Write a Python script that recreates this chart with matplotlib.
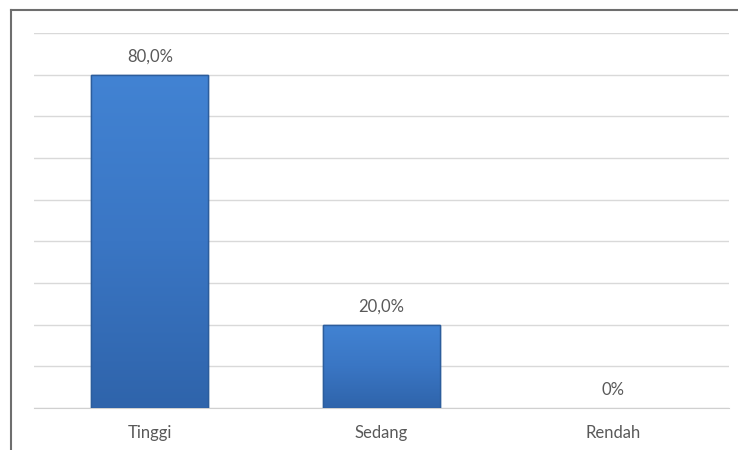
import numpy as np
import matplotlib.pyplot as plt
from matplotlib.lines import Line2D
from matplotlib.colors import LinearSegmentedColormap

categories = ['Tinggi', 'Sedang', 'Rendah']
values = [80.0, 20.0, 0.0]
labels = ['80,0%', '20,0%', '0%']

plt.rcParams['font.family'] = ['Lato', 'DejaVu Sans']

fig = plt.figure(figsize=(7.38, 4.5), dpi=100)
ax = fig.add_axes([34 / 738, 42 / 450, 695 / 738, 375 / 450])

x = range(len(categories))
bars = ax.bar(x, values, width=0.505, color='#3f7dcb', edgecolor='#2c5d9c', linewidth=1.0, zorder=3)

# soft vertical gradient like the office bevel fill
cmap = LinearSegmentedColormap.from_list('bev', ['#2f64ab', '#3a76c4', '#4283d3'])
grad = np.linspace(0, 1, 256).reshape(-1, 1)
for b, v in zip(bars, values):
    if v <= 0:
        b.set_visible(False)
        continue
    x0, w = b.get_x(), b.get_width()
    im = ax.imshow(grad, cmap=cmap, aspect='auto', origin='lower',
                   extent=(x0, x0 + w, 0, v), zorder=3.5)
    im.set_clip_path(b)
    ax.add_patch(plt.Rectangle((x0, 0), w, v, fill=False, edgecolor='#2c5d9c', linewidth=1.0, zorder=4))

for xi, v, lab in zip(x, values, labels):
    ax.text(xi, v + 2.3, lab, ha='center', va='bottom', fontsize=12, color='#595959')

ax.set_xlim(-0.5, 2.5)
ax.set_ylim(0, 90)
ax.set_yticks(range(0, 91, 10))
ax.yaxis.grid(True, color='#d9d9d9', linewidth=1.0, zorder=0)
ax.tick_params(axis='y', left=False, labelleft=False)
ax.tick_params(axis='x', bottom=False, labelsize=12, labelcolor='#595959', pad=9)
ax.set_xticks(list(x))
ax.set_xticklabels(categories)
for s in ['left', 'right', 'top']:
    ax.spines[s].set_visible(False)
ax.spines['bottom'].set_color('#d0d0d0')

# outer frame (left and top edges)
fig.add_artist(Line2D([11 / 738, 11 / 738], [0, 1 - 10 / 450], transform=fig.transFigure,
                      color='#6e6e6e', linewidth=1.5))
fig.add_artist(Line2D([11 / 738, 1], [1 - 10 / 450, 1 - 10 / 450], transform=fig.transFigure,
                      color='#6e6e6e', linewidth=1.5))

fig.savefig('out.png', dpi=100)
